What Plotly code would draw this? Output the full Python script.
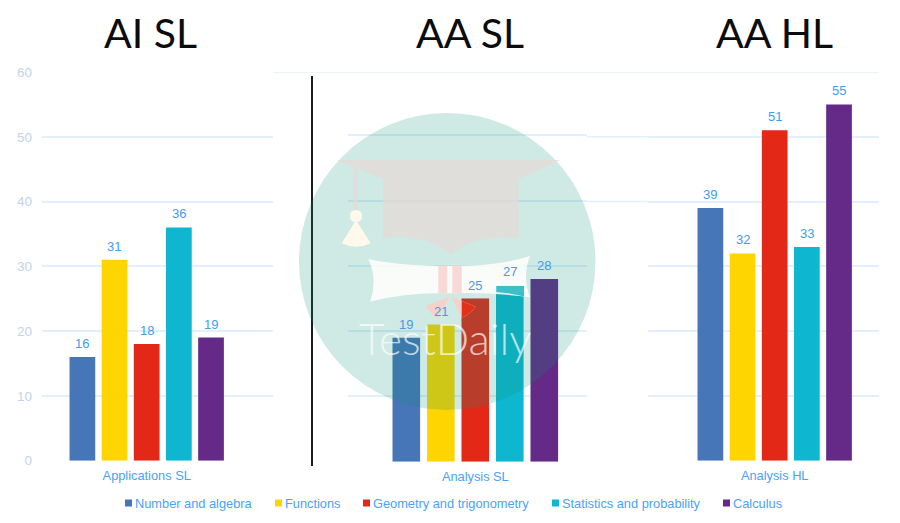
import plotly.graph_objects as go

W, H = 900, 523
# the page body keeps its 8px margin, so the figure sits 8px in from the corner
OFFSET = 8
FIG_W, FIG_H = W - OFFSET, H - OFFSET

panels = ["Applications SL", "Analysis SL", "Analysis HL"]
y_ticks = [0, 10, 20, 30, 40, 50, 60]

series_names = ["Number and algebra", "Functions", "Geometry and trigonometry",
                "Statistics and probability", "Calculus"]
number_algebra = [16, 19, 39]
functions = [31, 21, 32]
geometry = [18, 25, 51]
statistics = [36, 27, 33]
calculus = [19, 28, 55]
series_values = [number_algebra, functions, geometry, statistics, calculus]

colors = ["#4675b8", "#ffd500", "#e32817", "#0fb6cf", "#652a87"]
grid_color = "#e2effd"
label_colors = ["#429cf0", "#4a9be0", "#429cf0"]
bar_pitch = [32.2, 34.5, 32.2]


def px(x):
    return (x - OFFSET) / FIG_W


def py(y):
    return 1 - (y - OFFSET) / FIG_H


fig = go.Figure()
annotations = []

for s, name in enumerate(series_names):
    for p, panel in enumerate(panels):
        suffix = "" if p == 0 else str(p + 1)
        value = series_values[s][p]
        fig.add_trace(go.Bar(
            x=[panel], y=[value], name=name,
            marker=dict(color=colors[s], line=dict(width=0)),
            xaxis="x" + suffix, yaxis="y" + suffix, showlegend=False,
        ))
        # annotations so the labels stay on top of the watermark shapes
        annotations.append(dict(
            text=str(value), x=panel, y=value, xref="x" + suffix, yref="y" + suffix,
            xshift=(s - 2) * bar_pitch[p], yshift=4, yanchor="bottom", showarrow=False,
            font=dict(family="Liberation Sans", size=13, color=label_colors[p]),
        ))


def x_axis(x0, x1, center, unit, anchor):
    return dict(
        domain=[px(x0), px(x1)], range=[(x0 - center) / unit, (x1 - center) / unit],
        type="category", anchor=anchor, showgrid=False, zeroline=False, showline=False,
        ticks="", tickfont=dict(family="Liberation Sans", size=12.8, color="#4aa2fa"),
        ticklabelstandoff=5, automargin=False,
    )


def y_axis(y0, y1, top, anchor, show_labels=False):
    return dict(
        domain=[py(y0), py(y1)], range=[0, top], anchor=anchor, tickvals=y_ticks,
        showticklabels=show_labels, showgrid=True, gridcolor=grid_color, gridwidth=1.5,
        zeroline=False, showline=False, ticks="",
        tickfont=dict(family="Liberation Sans", size=13.5, color="#c3d2ea"),
        ticklabelstandoff=9, automargin=False,
    )


shapes = []


def poly(points, fill, opacity=1.0):
    # points: (command, x, y, ...) in pixels of the 900x523 page
    out = []
    for cmd, *vals in points:
        coords = [f"{px(vals[i]):.5f},{py(vals[i + 1]):.5f}" for i in range(0, len(vals), 2)]
        out.append(cmd + " ".join(coords))
    shapes.append(dict(type="path", path=" ".join(out) + " Z", xref="paper", yref="paper",
                       layer="above", fillcolor=fill, opacity=opacity, line=dict(width=0)))


# gridlines that run on past the panels
shapes.append(dict(type="line", xref="paper", yref="y", x0=px(273), x1=px(879), y0=60, y1=60,
                   line=dict(color=grid_color, width=1.5), layer="below"))
for v in [40, 50]:
    shapes.append(dict(type="line", xref="paper", yref="y3", x0=px(587), x1=px(648), y0=v, y1=v,
                       line=dict(color=grid_color, width=1.5), layer="below"))

# divider
shapes.append(dict(type="line", xref="paper", yref="paper", x0=px(312), x1=px(312),
                   y0=py(76), y1=py(466), line=dict(color="#1c1c1c", width=2), layer="above"))

# watermark
shapes.append(dict(type="circle", xref="paper", yref="paper", layer="above",
                   x0=px(299), x1=px(595.5), y0=py(113), y1=py(410),
                   fillcolor="rgb(15,145,120)", opacity=0.2, line=dict(width=0)))
poly([("M", 336.7, 160), ("L", 560, 160), ("L", 518.3, 179.3), ("L", 518.3, 238.7),
      ("Q", 475, 233, 451, 255), ("Q", 427, 233, 383.3, 238.3), ("L", 383.3, 179.3)],
     "#e2dcd8", 0.85)
poly([("M", 353.6, 168), ("L", 357.4, 168), ("L", 357.4, 212), ("L", 353.6, 212)], "#e2dcd8", 0.85)
poly([("M", 350, 216), ("Q", 350, 210, 356, 210), ("Q", 362, 210, 362, 216),
      ("Q", 362, 222, 356, 222), ("Q", 350, 222, 350, 216)], "#fef9ea")
poly([("M", 356, 220), ("L", 370.7, 243.3), ("Q", 356, 250, 341.7, 243.3)], "#fef9ea")
poly([("M", 368.3, 259), ("Q", 400, 266, 450, 266), ("Q", 500, 266, 530, 256),
      ("Q", 522, 277, 530, 297.3), ("Q", 490, 292, 450, 293.3), ("Q", 405, 292, 370, 301.7),
      ("Q", 378, 280, 368.3, 259)], "#fffefa", 0.88)
# scroll only tints the teal bar where they cross
poly([("M", 496.3, 286), ("L", 524, 286), ("L", 524, 296.5), ("Q", 510, 293, 496.3, 292)], "#3dbfc9")
poly([("M", 438.3, 265.7), ("L", 447.3, 265.7), ("L", 447.3, 293.3), ("L", 438.3, 293.3)], "#f7d9d6")
poly([("M", 452.3, 265.7), ("L", 461.7, 265.7), ("L", 461.7, 293.3), ("L", 452.3, 293.3)], "#f7d9d6")
poly([("M", 449.3, 296.7), ("L", 426, 306), ("Q", 430, 314, 438.3, 318)], "#f7d0c9")
poly([("M", 451.7, 296.7), ("L", 475.7, 306.7), ("Q", 470, 314, 461.7, 318)], "#f7d0c9")
poly([("M", 461.7, 301), ("L", 475.7, 306.7), ("Q", 470, 314, 461.7, 318)], "#e3301a")

# legend swatches, the native legend can't do small squares this close to the text
legend_marker_x = [125, 275, 363, 552, 723]
legend_text_x = [133, 283, 371, 560, 731]
for name, color, mx, tx in zip(series_names, colors, legend_marker_x, legend_text_x):
    shapes.append(dict(type="rect", xref="paper", yref="paper", x0=px(mx), x1=px(mx + 7),
                       y0=py(499.5), y1=py(506.5), fillcolor=color, line=dict(width=0)))
    annotations.append(dict(text=name, xref="paper", yref="paper", x=px(tx), y=py(503),
                            xanchor="left", yanchor="middle", showarrow=False,
                            font=dict(family="Liberation Sans", size=12.8, color="#4aa2fa")))

title_x = [150, 469.5, 774.5]
for label, tx in zip(["AI SL", "AA SL", "AA HL"], title_x):
    annotations.append(dict(text=label, xref="paper", yref="paper", x=px(tx), y=py(33),
                            xanchor="center", yanchor="middle", showarrow=False,
                            font=dict(family="Lato", size=41, color="#0c0c0c")))

annotations.append(dict(text="TestDaily", xref="paper", yref="paper", x=px(445), y=py(338),
                        xanchor="center", yanchor="middle", showarrow=False,
                        font=dict(family="Lato", size=44, weight=300, color="rgba(255,255,255,0.7)")))

fig.update_layout(
    width=FIG_W, height=FIG_H, margin=dict(l=0, r=0, t=0, b=0),
    paper_bgcolor="white", plot_bgcolor="white",
    barmode="group", bargap=0.2, bargroupgap=0.2, showlegend=False,
    xaxis=x_axis(42, 273, 146.7, 201, "y"),
    yaxis=y_axis(460.7, 72, 60, "x", show_labels=True),
    xaxis2=x_axis(348, 587, 475.3, 215.6, "y2"),
    yaxis2=y_axis(461.7, 72, 59.7, "x2"),
    xaxis3=x_axis(648, 879, 774.7, 201, "y3"),
    yaxis3=y_axis(460.7, 72, 60, "x3"),
    shapes=shapes, annotations=annotations,
)

fig.write_html("out.html")
